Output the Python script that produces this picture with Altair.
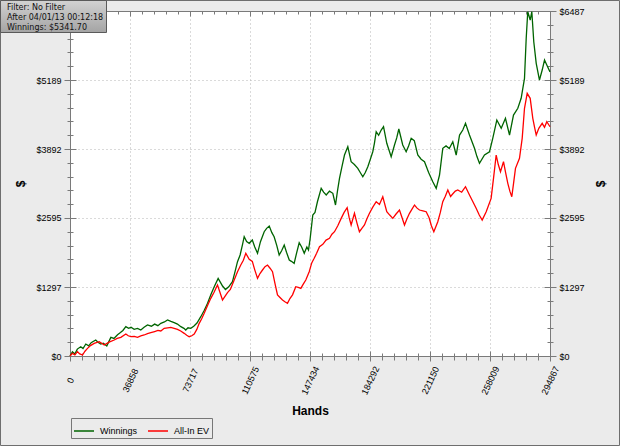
import altair as alt
import pandas as pd

# ---------------- data ----------------
WIN_HANDS = [0, 1500, 3000, 4500, 6600, 8000, 9700, 11500, 13000, 15800, 17200, 18900, 20500, 22600,
             24000, 25100, 27000, 29200, 31000, 32500, 34300, 36000, 37500, 39400, 41500, 43500, 45500,
             47600, 50000, 52000, 54000, 55800, 58000, 59900, 62000, 64000, 66000, 68100, 70000, 71100,
             72500, 74200, 76000, 78000, 80350, 82500, 84500, 86500, 88600, 91000, 92500, 93700, 95500,
             97500, 99800, 101500, 102900, 104500, 106000, 107000, 108500, 110100, 112000, 113500,
             115200, 117000, 119300, 120800, 122400, 124000, 125400, 127000, 128500, 130000, 131600,
             133000, 134700, 136000, 137700, 139300, 140800, 142300, 143900, 145500, 146500, 147500,
             149150, 150500, 152000, 154300, 155800, 157400, 159400, 161450, 163100, 164300, 165550,
             167000, 168620, 170660, 172700, 174700, 176800, 178300, 179870, 181400, 182950, 184500,
             186000, 187000, 188100, 189600, 191170, 192600, 194600, 197300, 199340, 200700, 202000,
             204400, 206500, 208000, 209600, 211500, 213650, 215700, 217770, 220300, 222870, 224960,
             227000, 229000, 231000, 233000, 235150, 237240, 239300, 241300, 242960, 245400, 248480,
             250000, 251550, 254620, 257700, 259700, 262200, 264900, 267500, 270000, 272440, 275100,
             277150, 279200, 280250, 281200, 282700, 283700, 284900, 286400, 288400, 290070, 291500,
             292900, 294867]
WIN_DOLLARS = [0, 80, 40, 130, 175, 140, 225, 190, 250, 300, 260, 225, 240, 188,
               280, 350, 330, 400, 440, 480, 551, 520, 540, 501, 520, 489, 540,
               583, 560, 600, 570, 614, 640, 677, 650, 626, 600, 551, 520, 489,
               530, 520, 560, 620, 739, 860, 991, 1150, 1303, 1460, 1380, 1316, 1250,
               1300, 1397, 1600, 1773, 1900, 2100, 2243, 2150, 2119, 2180, 2050,
               1931, 2150, 2337, 2400, 2444, 2320, 2243, 2080, 1899, 1980, 2087,
               1950, 1805, 1780, 1743, 1950, 2130, 2050, 1931, 2050, 1993, 2200,
               2651, 2700, 2900, 3153, 3080, 3027, 3100, 3059, 2839, 3100, 3341,
               3550, 3779, 3935, 3653, 3600, 3529, 3450, 3371, 3450, 3559, 3700,
               3841, 4000, 4217, 4150, 4249, 4311, 4000, 3747, 3967, 4100, 4268,
               3967, 3841, 3950, 4093, 4050, 3779, 3700, 3653, 3450, 3277, 3153,
               3403, 3905, 3950, 3900, 4029, 3779, 4155, 4249, 4375, 4155, 3905,
               3750, 3623, 3779, 3841, 4093, 4437, 4281, 4469, 4155, 4531, 4657,
               4845, 5221, 5973, 6473, 6317, 6473, 5909, 5503, 5189, 5377, 5565,
               5471, 5342]

EV_HANDS = [0, 1500, 3000, 4600, 6000, 7700, 9200, 10750, 12800, 14860, 17900, 19500, 21000, 24000,
            27150, 29000, 31230, 34300, 35800, 37350, 39500, 41460, 43500, 45580, 47600, 49640, 52000,
            54000, 55800, 57870, 60000, 61920, 64000, 66040, 68000, 70150, 71700, 73220, 74800, 76300,
            77900, 79370, 80900, 82440, 84500, 86490, 88500, 90600, 92100, 93680, 95200, 96750, 98500,
            100500, 102900, 104900, 106500, 108000, 110080, 112000, 113500, 115200, 116700, 118250,
            119800, 121320, 122900, 124400, 126000, 127470, 129000, 130540, 132000, 133600, 135100,
            136700, 138700, 140200, 141800, 143300, 144850, 146950, 148500, 150000, 151500, 153270,
            155300, 157300, 159400, 160900, 162480, 164500, 166580, 168400, 170260, 171500, 172700,
            174750, 176300, 177800, 179300, 180900, 182400, 183970, 186000, 188100, 190100, 192140,
            194600, 196400, 198300, 200300, 202400, 204000, 205480, 207000, 208550, 210100, 211630,
            213200, 214700, 216800, 218800, 220600, 222000, 223500, 225940, 227500, 229000, 230500,
            232100, 233800, 235200, 236700, 238200, 240600, 242960, 245400, 247500, 249500, 251400,
            253200, 255670, 258700, 260200, 261800, 263100, 264450, 266300, 267600, 268950, 270200,
            271400, 272500, 273660, 276120, 277780, 279200, 280860, 282700, 284300, 285400, 286400,
            288000, 290070, 291500, 292900, 294867]
EV_DOLLARS = [0, 50, 20, 81, 40, 19, 90, 144, 200, 238, 269, 240, 207, 260,
              301, 330, 351, 414, 380, 363, 370, 351, 380, 395, 420, 438, 460,
              480, 470, 520, 530, 539, 520, 501, 470, 426, 390, 363, 380, 414,
              500, 614, 700, 802, 950, 1084, 1200, 1335, 1200, 1053, 1120, 1191, 1250,
              1400, 1585, 1711, 1800, 1931, 1818, 1780, 1620, 1460, 1550, 1617,
              1680, 1711, 1650, 1585, 1350, 1147, 1100, 1053, 1020, 991, 1080,
              1150, 1303, 1290, 1272, 1350, 1429, 1585, 1750, 1837, 1931, 2055,
              2100, 2180, 2212, 2290, 2337, 2450, 2588, 2700, 2788, 2600, 2463,
              2683, 2500, 2337, 2400, 2463, 2580, 2683, 2800, 2901, 2850, 2995,
              2713, 2650, 2588, 2670, 2745, 2600, 2463, 2580, 2683, 2760, 2839,
              2780, 2745, 2730, 2713, 2600, 2450, 2337, 2525, 2700, 2901, 3000,
              3121, 3000, 3050, 3100, 3121, 3080, 3183, 3027, 2900, 2777, 2650,
              2557, 2713, 2964, 3350, 3779, 3600, 3465, 3653, 3450, 3247, 3100,
              2995, 3250, 3529, 3717, 4093, 4657, 4939, 4845, 4469, 4300, 4155,
              4281, 4375, 4300, 4405, 4311]

SERIES_NAMES = ["Winnings", "All-In EV"]
SERIES_COLORS = ["#006400", "#ff0000"]
X_TICKS = [0, 36858, 73717, 110575, 147434, 184292, 221150, 258009, 294867]
Y_TICKS = [0, 1297, 2595, 3892, 5189, 6487]
INFO_LINES = ["Filter: No Filter", "After 04/01/13 00:12:18", "Winnings: $5341.70"]
X_TITLE = "Hands"
Y_TITLE = "$"

# ---------------- derived ----------------
X_MAX = X_TICKS[-1]
Y_MAX = Y_TICKS[-1]
X_MINOR = [X_MAX * i / 40 for i in range(41)]
Y_MINOR = [Y_MAX * i / 25 for i in range(26)]

df = pd.concat([
    pd.DataFrame({"hands": WIN_HANDS, "dollars": WIN_DOLLARS, "series": SERIES_NAMES[0]}),
    pd.DataFrame({"hands": EV_HANDS, "dollars": EV_DOLLARS, "series": SERIES_NAMES[1]}),
], ignore_index=True)
ends = pd.DataFrame({"hands": [X_TICKS[0], X_MAX], "dollars": [Y_TICKS[0], Y_MAX]})
one = pd.DataFrame({"t": [""]})

W, H = 480, 345
FONT = "Liberation Sans"
AX = "#7a7a7a"

xs = alt.Scale(domain=[0, X_MAX], nice=False, zero=False)
ys = alt.Scale(domain=[0, Y_MAX], nice=False, zero=False)


def axis(orient, values, size, offset=0, **kw):
    base = dict(orient=orient, values=values, tickSize=size, offset=offset,
                labels=False, domain=False, grid=False, title=None,
                tickColor=AX, tickWidth=1)
    base.update(kw)
    return alt.Axis(**base)


label_style = dict(labelFont=FONT, labelFontSize=9, labelColor="black",
                   labelFlush=False, labelOverlap=False)
title_style = dict(titleFont=FONT, titleFontSize=12, titleFontWeight="bold", titleColor="black")
grid_style = dict(grid=True, gridColor="#b4b4b4", gridDash=[1, 3], gridWidth=1)

x_main = axis("bottom", X_TICKS, 5, labels=True, domain=True, domainColor=AX,
              labelAngle=-65, labelAlign="center", labelBaseline="middle", labelPadding=19,
              format="d", title=X_TITLE, titleX=W / 2, titleY=58, titleAlign="center",
              titleBaseline="alphabetic", titleAngle=0, **label_style, **title_style, **grid_style)
y_main = axis("left", Y_TICKS, 6, labels=True, domain=True, domainColor=AX, labelPadding=3,
              format="$d", title=Y_TITLE, titleX=-50, titleY=H / 2, titleAngle=270,
              titleAlign="center", titleBaseline="middle", **label_style, **title_style, **grid_style)

lines = alt.Chart(df).mark_line(strokeWidth=1.3).encode(
    x=alt.X("hands:Q", scale=xs, axis=x_main),
    y=alt.Y("dollars:Q", scale=ys, axis=y_main),
    color=alt.Color("series:N", sort=SERIES_NAMES,
                    scale=alt.Scale(domain=SERIES_NAMES, range=SERIES_COLORS),
                    legend=alt.Legend(orient="none", legendX=1, legendY=407, direction="horizontal",
                                      title=None, symbolType="stroke", symbolSize=400,
                                      symbolStrokeWidth=1.5, labelFont=FONT, labelFontSize=9,
                                      labelColor="black", labelOffset=5, columnPadding=7,
                                      strokeColor="#777", padding=2)),
)


def guide_layer(xa, ya):
    return alt.Chart(ends).mark_point(opacity=0).encode(
        x=alt.X("hands:Q", scale=xs, axis=xa),
        y=alt.Y("dollars:Q", scale=ys, axis=ya))


guides = [
    guide_layer(axis("bottom", X_TICKS, 5, offset=-5), axis("left", Y_TICKS, 6, offset=-6)),
    guide_layer(axis("bottom", X_MINOR, 4), axis("left", Y_MINOR, 3)),
    guide_layer(axis("bottom", X_MINOR, 3, offset=-3), axis("left", Y_MINOR, 3, offset=-3)),
    guide_layer(axis("top", X_TICKS, 0, domain=True, domainColor=AX, ticks=False),
                axis("right", Y_TICKS, 6, labels=True, domain=True, domainColor=AX, labelPadding=3,
                     format="$d", title=Y_TITLE, titleX=50, titleY=H / 2, titleAngle=270,
                     titleAlign="center", titleBaseline="middle", **label_style, **title_style)),
    guide_layer(axis("top", X_TICKS, 5, offset=-5), axis("right", Y_TICKS, 6, offset=-6)),
    guide_layer(axis("top", X_MINOR, 3, offset=-3), axis("right", Y_MINOR, 3)),
    guide_layer(None, axis("right", Y_MINOR, 3, offset=-3)),
]

border = alt.Chart(one).mark_rect(fill=None, stroke="#6e6e6e", strokeWidth=1).encode(
    x=alt.value(-69.5), x2=alt.value(549.5), y=alt.value(-10.5), y2=alt.value(434.5))

info_box = alt.Chart(one).mark_rect(
    fill=alt.LinearGradient(gradient="linear", x1=0, x2=0, y1=0, y2=1,
                            stops=[alt.GradientStop(color="#d2d2d2", offset=0),
                                   alt.GradientStop(color="#a4a4a4", offset=1)]),
    stroke="#5a5a5a", strokeWidth=1).encode(
    x=alt.value(-69.5), x2=alt.value(36.5), y=alt.value(-10.5), y2=alt.value(21.5))

info_texts = [
    alt.Chart(pd.DataFrame({"t": [line]})).mark_text(
        align="left", baseline="middle", font="DejaVu Sans", fontSize=8, color="#111111"
    ).encode(x=alt.value(-63), y=alt.value(-2.8 + 9.8 * i), text="t:N")
    for i, line in enumerate(INFO_LINES)
]

chart = alt.layer(lines, *guides, border, info_box, *info_texts).resolve_scale(
    x="shared", y="shared").resolve_axis(x="independent", y="independent").properties(
    width=W, height=H,
    autosize=alt.AutoSizeParams(type="none"),
    padding={"left": 70, "top": 11, "right": 70, "bottom": 90},
    background="#ebebeb",
).configure_view(stroke=None, fill="white")

chart.save("out.html", embed_options={"renderer": "svg", "actions": False})
